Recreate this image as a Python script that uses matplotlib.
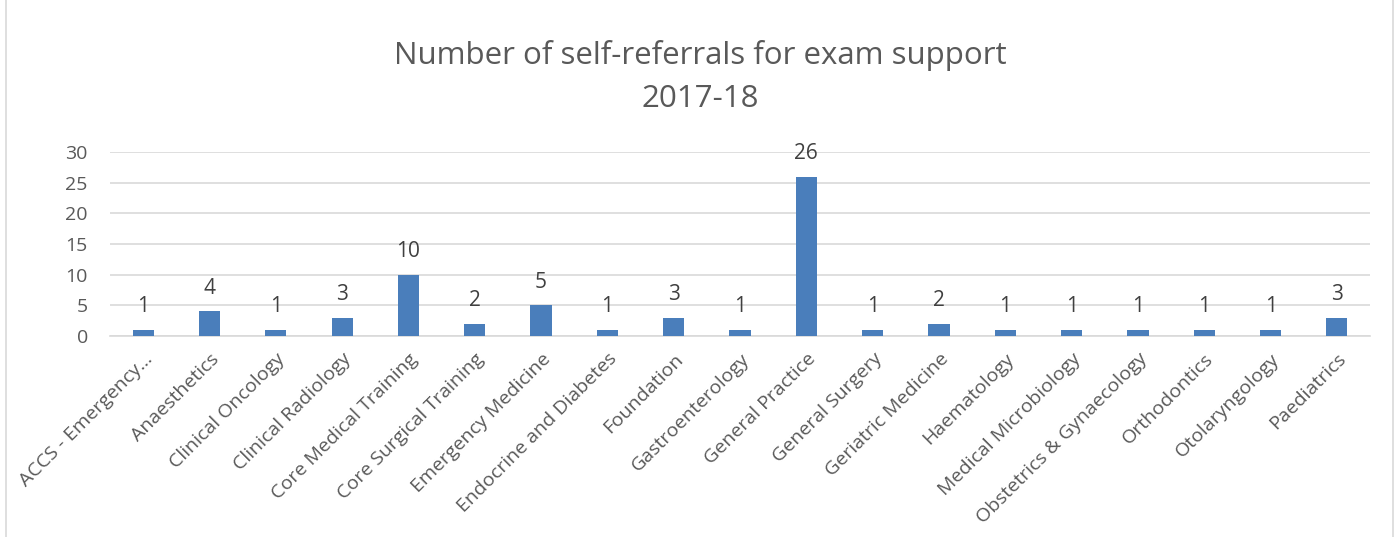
import matplotlib
matplotlib.use("Agg")
import matplotlib.pyplot as plt
from matplotlib.patches import Rectangle

categories = ["ACCS - Emergency…", "Anaesthetics", "Clinical Oncology", "Clinical Radiology",
              "Core Medical Training", "Core Surgical Training", "Emergency Medicine",
              "Endocrine and Diabetes", "Foundation", "Gastroenterology", "General Practice",
              "General Surgery", "Geriatric Medicine", "Haematology", "Medical Microbiology",
              "Obstetrics & Gynaecology", "Orthodontics", "Otolaryngology", "Paediatrics"]
values = [1, 4, 1, 3, 10, 2, 5, 1, 3, 1, 26, 1, 2, 1, 1, 1, 1, 1, 3]
yticks = [0, 5, 10, 15, 20, 25, 30]
title = "Number of self-referrals for exam support\n2017-18"

plt.rcParams['font.family'] = ['Open Sans', 'DejaVu Sans']
txt = "#595959"

fig = plt.figure(figsize=(14, 5.37), dpi=100)
fig.patches.append(Rectangle((0.004, -0.01), 0.991, 1.02, transform=fig.transFigure,
                             fill=False, edgecolor="#d9d9d9", linewidth=1.2))
ax = fig.add_axes([0.0786, 0.3743, 0.9, 0.3427])
x = list(range(len(categories)))
bars = ax.bar(x, values, width=0.32, color="#4a7ebb", zorder=3)
ax.set_xlim(-0.5, len(categories) - 0.5)
ax.set_ylim(0, 30)
ax.set_yticks(yticks)
ax.yaxis.grid(True, color="#d9d9d9", linewidth=1.2, zorder=0)
for s in ["top", "right", "left"]:
    ax.spines[s].set_visible(False)
ax.spines["bottom"].set_color("#d9d9d9")
ax.spines["bottom"].set_linewidth(1.2)
ax.tick_params(axis="both", length=0, colors=txt, labelsize=14)
ax.tick_params(axis="y", pad=16)
ax.tick_params(axis="x", pad=10)
ax.set_xticks(x)
ax.set_xticklabels(categories, rotation=45, ha="right", rotation_mode="anchor", color=txt,
                   fontsize=14)
for xi, v in zip(x, values):
    ax.annotate(str(v), (xi, v), xytext=(0, 9), textcoords="offset points",
                ha="center", va="bottom", fontsize=15, color="#404040")
fig.text(0.5, 0.857, title, ha="center", va="center", fontsize=22.5, color=txt, linespacing=1.55)
fig.savefig("out.png", dpi=100)
